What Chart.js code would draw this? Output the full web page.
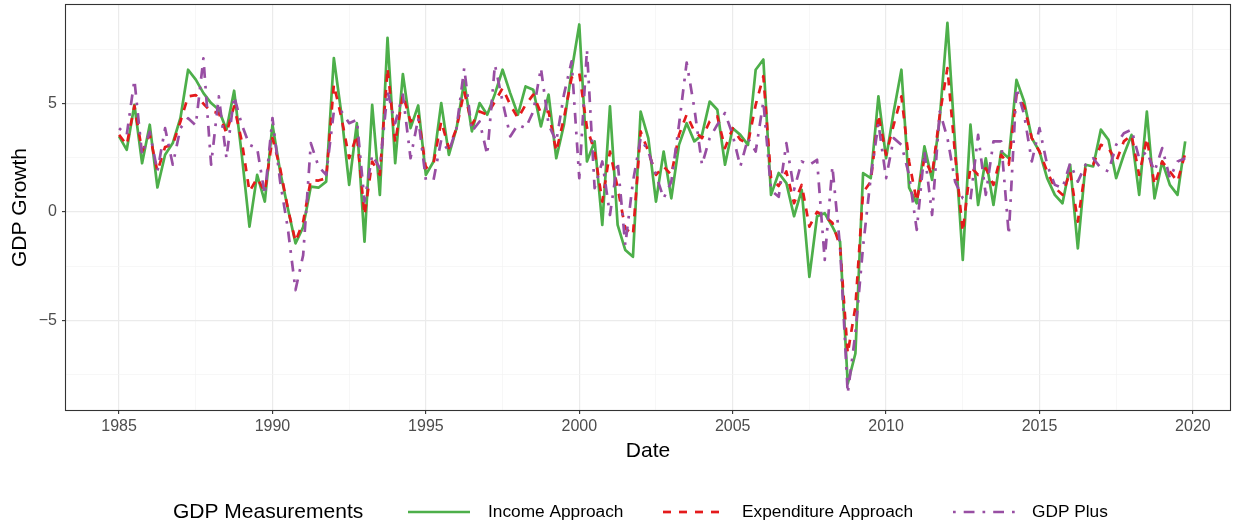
<!DOCTYPE html>
<html><head><meta charset="utf-8">
<script src="https://cdn.jsdelivr.net/npm/chart.js@4.4.1/dist/chart.umd.min.js"></script>
<style>html,body{margin:0;padding:0;background:#fff;} canvas{display:block;}</style>
</head><body>
<canvas id="c" width="1238" height="527"></canvas>
<script>
// ---- categories ----
const years = [1985,1986,1987,1988,1989,1990,1991,1992,1993,1994,1995,1996,1997,1998,1999,2000,2001,2002,2003,2004,2005,2006,2007,2008,2009,2010,2011,2012,2013,2014,2015,2016,2017,2018,2019];
const quarterOffsets = [0, 0.25, 0.5, 0.75];

// ---- series values (quarterly, 1985Q1 .. 2019Q4) ----
const income = [
 3.49, 2.87, 4.95, 2.25,   4.03, 1.13, 2.64, 3.18,   4.34, 6.57, 6.11, 5.49,   5.03, 4.72, 3.80, 5.60,
 2.64,-0.68, 1.71, 0.48,   4.03, 1.87, 0.17,-1.45,  -0.70, 1.17, 1.12, 1.40,   7.11, 4.49, 1.25, 4.10,
-1.37, 4.95, 0.79, 8.04,   2.25, 6.37, 3.87, 4.92,   1.71, 2.33, 5.03, 2.64,   3.87, 6.03, 3.72, 5.03,
 4.49, 5.45, 6.57, 5.49,   4.49, 5.80, 5.65, 3.95,   5.42, 2.48, 4.03, 6.50,   8.66, 2.33, 3.26,-0.60,
 4.88,-0.60,-1.76,-2.07,   4.64, 3.41, 0.48, 2.79,   0.63, 3.10, 4.10, 3.26,   3.56, 5.10, 4.72, 2.18,
 3.87, 3.56, 3.10, 6.57,   7.04, 0.79, 1.80, 1.33,  -0.20, 1.02,-3.00,-0.20,  -0.06,-0.68,-1.37,-7.93,
-6.54, 1.79, 1.56, 5.34,   2.48, 4.64, 6.57, 1.12,   0.40, 3.03, 1.48, 4.33,   8.73, 3.10,-2.22, 4.03,
 0.32, 2.48, 0.32, 2.79,   2.48, 6.10, 5.10, 3.41,   2.79, 1.56, 0.79, 0.40,   2.18,-1.68, 2.18, 2.10,
 3.80, 3.33, 1.56, 2.64,   3.56, 0.79, 4.64, 0.63,   2.33, 1.25, 0.79, 3.26
];
const expenditure = [
 3.56, 3.10, 4.90, 2.80,   3.56, 1.87, 3.00, 3.10,   4.18, 5.34, 5.40, 5.00,   4.64, 4.57, 3.64, 4.88,
 3.26, 0.94, 1.56, 0.94,   3.41, 2.02, 0.17,-1.37,  -0.45, 1.48, 1.45, 1.56,   5.88, 4.34, 2.48, 3.56,
-0.14, 2.33, 1.71, 6.65,   3.20, 5.42, 4.18, 4.49,   2.02, 2.25, 4.18, 2.95,   3.87, 5.57, 4.03, 4.64,
 4.49, 5.10, 5.72, 4.95,   4.33, 4.95, 5.42, 4.57,   4.64, 2.79, 4.33, 6.20,   6.42, 3.90, 2.79, 0.48,
 2.79, 1.12,-0.76,-1.06,   3.72, 2.79, 1.71, 2.10,   1.71, 3.56, 4.50, 3.72,   3.41, 4.18, 4.41, 2.95,
 3.87, 3.33, 3.18, 4.95,   6.27, 1.56, 1.20, 1.87,   0.40, 1.25,-0.68, 0.00,  -0.20,-0.50,-1.60,-6.54,
-4.38, 0.90, 1.40, 4.49,   2.64, 4.03, 5.34, 2.33,   0.48, 2.48, 1.71, 4.49,   6.65, 2.64,-0.91, 2.10,
 1.71, 2.02, 1.25, 2.64,   2.18, 5.42, 4.88, 3.41,   2.79, 1.87, 1.12, 0.79,   1.87,-0.45, 2.02, 2.18,
 3.10, 2.95, 2.33, 3.26,   3.56, 1.71, 3.41, 1.25,   2.33, 1.87, 1.40, 2.71
];
const gdpPlus = [
 3.87, 3.56, 6.10, 2.64,   3.70, 1.87, 3.87, 2.18,   3.87, 4.33, 4.00, 7.10,   2.18, 5.34, 2.48, 5.34,
 4.03, 3.10, 2.95, 0.79,   4.34, 1.40,-0.76,-3.61,  -2.00, 3.18, 2.10, 1.71,   4.64, 4.64, 4.10, 4.26,
 0.48, 2.64, 2.02, 5.57,   4.10, 5.42, 2.48, 4.33,   1.48, 1.48, 3.33, 2.79,   3.87, 6.65, 3.72, 4.18,
 2.64, 6.80, 5.10, 3.49,   4.03, 3.87, 4.64, 6.65,   4.03, 3.26, 5.42, 6.96,   1.56, 7.50, 1.10, 2.33,
-0.14, 2.33,-1.53, 1.40,   3.41, 2.79, 1.71, 0.63,   1.40, 4.03, 6.90, 4.80,   2.18, 3.41, 4.03, 4.57,
 3.56, 2.10, 3.41, 2.79,   5.10, 1.00, 0.70, 3.18,   1.02, 2.33, 2.18, 2.41,  -2.22, 2.10,-1.60,-8.39,
-5.60,-1.60, 1.60, 4.10,   1.56, 3.41, 3.10, 1.71,  -0.83, 2.79,-0.14, 4.64,   3.41, 1.40, 0.63, 0.56,
 3.56, 0.79, 3.26, 3.26,  -1.06, 5.73, 4.49, 2.33,   3.87, 2.18, 1.25, 1.10,   2.25, 1.40, 2.18, 2.48,
 2.02, 1.87, 3.10, 3.64,   3.80, 2.48, 2.79, 1.87,   2.95, 1.56, 2.33, 2.48
];

// ---- tick labels ----
const xMajorTicks = [1985, 1990, 1995, 2000, 2005, 2010, 2015, 2020];
const xMinorTicks = [1987.5, 1992.5, 1997.5, 2002.5, 2007.5, 2012.5, 2017.5];
const yMajorTicks = [-5, 0, 5];
const yMinorTicks = [-7.5, -2.5, 2.5, 7.5];

const seriesNames = ['Income Approach', 'Expenditure Approach', 'GDP Plus'];
const legendTitle = 'GDP Measurements';
const xTitle = 'Date';
const yTitle = 'GDP Growth';

// ---- build ----
const dates = [];
years.forEach(y => quarterOffsets.forEach(q => dates.push(y + q)));
const toPts = arr => arr.map((v, i) => ({ x: dates[i], y: v }));

const FONT = '"Liberation Sans", Arial, Helvetica, sans-serif';
const COLORS = ['#4DAF4A', '#E41A1C', '#984EA3'];
const LW = 2.7;
const DASHES = [[], [8, 8], [2.7, 8, 10.8, 8]];

const isMajor = (v, majors) => majors.some(m => Math.abs(m - v) < 1e-6);

const borderPlugin = {
  id: 'panelBorder',
  afterDraw(chart) {
    const { ctx, chartArea: a } = chart;
    ctx.save();
    ctx.strokeStyle = '#333333';
    ctx.lineWidth = 1.1;
    ctx.strokeRect(a.left - 0.5, a.top - 0.5, a.right - a.left + 1, a.bottom - a.top + 1);
    ctx.restore();
  }
};

const legendPlugin = {
  id: 'ggLegend',
  afterDraw(chart) {
    const ctx = chart.ctx;
    const y = 512;
    ctx.save();
    ctx.textBaseline = 'middle';
    ctx.textAlign = 'left';
    ctx.fillStyle = '#000000';
    ctx.font = '21px ' + FONT;
    ctx.fillText(legendTitle, 173, y);
    const keyX = [408, 663, 953];
    const textX = [488, 742, 1032];
    ctx.font = '17.3px ' + FONT;
    seriesNames.forEach((name, i) => {
      ctx.save();
      ctx.strokeStyle = COLORS[i];
      ctx.lineWidth = LW;
      ctx.setLineDash(DASHES[i]);
      ctx.lineCap = 'butt';
      ctx.beginPath();
      ctx.moveTo(keyX[i], y);
      ctx.lineTo(keyX[i] + 62, y);
      ctx.stroke();
      ctx.restore();
      ctx.fillStyle = '#000000';
      ctx.fillText(name, textX[i], y);
    });
    ctx.restore();
  }
};

const allSeries = [income, expenditure, gdpPlus];

new Chart(document.getElementById('c').getContext('2d'), {
  type: 'line',
  data: {
    datasets: allSeries.map((arr, i) => ({
      label: seriesNames[i],
      data: toPts(arr),
      borderColor: COLORS[i],
      backgroundColor: COLORS[i],
      borderWidth: LW,
      borderDash: DASHES[i],
      borderCapStyle: 'butt',
      borderJoinStyle: 'round',
      pointRadius: 0,
      tension: 0,
      fill: false,
      order: 2 - i
    }))
  },
  options: {
    responsive: false,
    animation: false,
    devicePixelRatio: 1,
    parsing: true,
    layout: { autoPadding: false, padding: { left: 0, top: 5, right: 8, bottom: 60 } },
    plugins: { legend: { display: false }, tooltip: { enabled: false } },
    scales: {
      x: {
        type: 'linear',
        min: 1983.27,
        max: 2021.21,
        afterBuildTicks: s => {
          s.ticks = [...xMajorTicks, ...xMinorTicks].sort((a, b) => a - b).map(v => ({ value: v }));
        },
        afterFit: s => { s.height = 57; s.paddingLeft = 0; s.paddingRight = 0; },
        ticks: {
          autoSkip: false, maxRotation: 0, minRotation: 0,
          color: '#4D4D4D', font: { family: FONT, size: 16 }, padding: 3,
          callback: v => isMajor(v, xMajorTicks) ? String(v) : ''
        },
        grid: {
          drawTicks: true, tickLength: 4,
          color: c => isMajor(c.tick.value, xMajorTicks) ? '#EBEBEB' : '#F4F4F4',
          lineWidth: c => isMajor(c.tick.value, xMajorTicks) ? 1.2 : 0.7,
          tickColor: c => isMajor(c.tick.value, xMajorTicks) ? '#333333' : 'rgba(0,0,0,0)',
          tickWidth: 1.1
        },
        border: { display: false },
        title: { display: true, text: xTitle, color: '#000000', font: { family: FONT, size: 21 }, padding: { top: 0, bottom: 3 } }
      },
      y: {
        type: 'linear',
        min: -9.15,
        max: 9.56,
        afterBuildTicks: s => {
          s.ticks = [...yMajorTicks, ...yMinorTicks].sort((a, b) => a - b).map(v => ({ value: v }));
        },
        afterFit: s => { s.width = 66; s.paddingTop = 0; s.paddingBottom = 0; },
        ticks: {
          autoSkip: false,
          color: '#4D4D4D', font: { family: FONT, size: 16 }, padding: 5,
          callback: v => isMajor(v, yMajorTicks) ? (v < 0 ? '\u2212' + Math.abs(v) : String(v)) : ''
        },
        grid: {
          drawTicks: true, tickLength: 4,
          color: c => isMajor(c.tick.value, yMajorTicks) ? '#EBEBEB' : '#F4F4F4',
          lineWidth: c => isMajor(c.tick.value, yMajorTicks) ? 1.2 : 0.7,
          tickColor: c => isMajor(c.tick.value, yMajorTicks) ? '#333333' : 'rgba(0,0,0,0)',
          tickWidth: 1.1
        },
        border: { display: false },
        title: { display: true, text: yTitle, color: '#000000', font: { family: FONT, size: 21 }, padding: { top: 8, bottom: 0 } }
      }
    }
  },
  plugins: [borderPlugin, legendPlugin]
});
</script>
</body></html>
